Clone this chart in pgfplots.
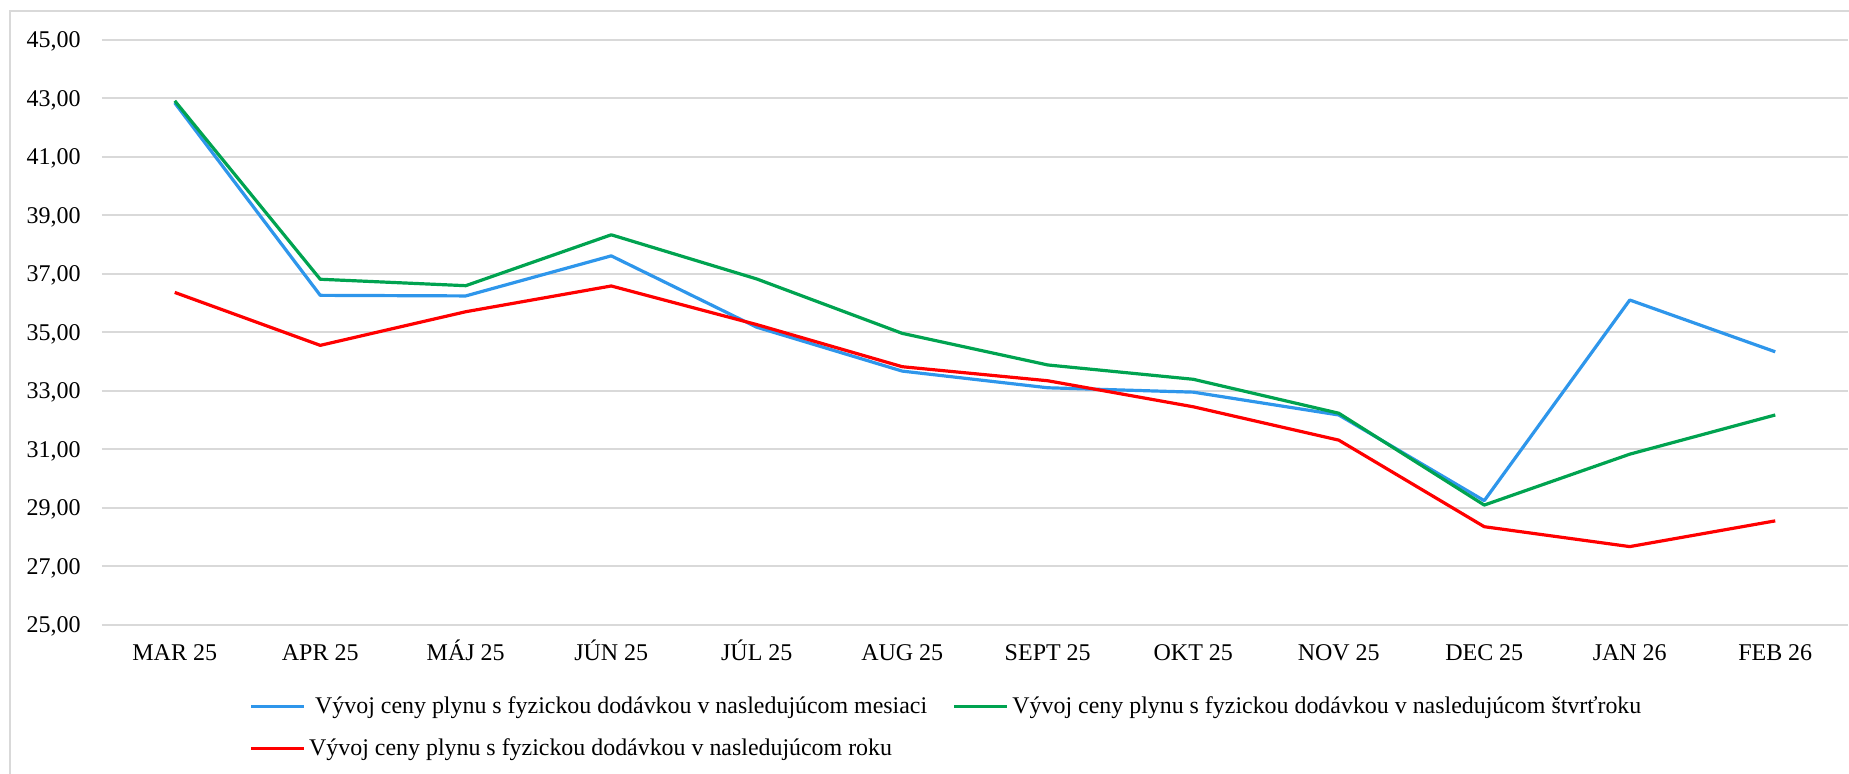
\documentclass[border=0pt]{standalone}
\usepackage{pgfplots}
\pgfplotsset{compat=1.18}
\usepackage{fontspec}
\setmainfont{Liberation Serif}
\definecolor{cblue}{RGB}{46,150,235}
\definecolor{cgreen}{RGB}{0,163,80}
\definecolor{cred}{RGB}{255,0,0}
\definecolor{gridgray}{RGB}{217,217,217}
\begin{document}
\begin{tikzpicture}
\draw[gridgray, line width=1pt] (-46pt,307pt) rectangle (900pt,-100pt);
\begin{axis}[
  scale only axis,
  width=873pt, height=292.5pt,
  xmin=-0.5, xmax=11.5,
  ymin=25, ymax=45,
  xtick={0,...,11},
  xticklabels={MAR 25,APR 25,MÁJ 25,JÚN 25,JÚL 25,AUG 25,SEPT 25,OKT 25,NOV 25,DEC 25,JAN 26,FEB 26},
  ytick={25,27,...,45},
  ymajorgrids,
  grid style={gridgray, line width=1pt},
  axis line style={draw=none},
  major tick length=0pt,
  tick label style={font=\fontsize{12}{14}\selectfont},
  /pgf/number format/.cd, assume math mode=true, fixed, fixed zerofill, precision=2, use comma, 1000 sep={},
  /pgfplots/.cd,
  yticklabel style={anchor=base east, inner sep=0pt, xshift=-10.5pt, yshift=-4pt},
  xticklabel style={anchor=base, inner sep=0pt, yshift=-18pt},
  legend columns=2,
  legend cell align=left,
  legend style={
    at={(rel axis cs:0.0845,-0.122)}, anchor=north west,
    draw=none, fill=none, inner sep=0pt, outer sep=0pt,
    font=\fontsize{11.95}{14}\selectfont,
    nodes={inner sep=0pt},
    row sep=11pt,
    /tikz/every odd column/.append style={column sep=2pt},
    /tikz/every even column/.append style={column sep=12.8pt},
  },
  legend image code/.code={\draw[#1, line width=1.6pt] (0pt,0pt) -- (26.25pt,0pt);},
  every axis plot/.append style={line width=1.6pt, line join=round},
]
\addplot[cblue] coordinates {(0,42.85) (1,36.27) (2,36.25) (3,37.62) (4,35.18) (5,33.68) (6,33.11) (7,32.96) (8,32.18) (9,29.25) (10,36.11) (11,34.34)};
\addlegendentry{\ Vývoj ceny plynu s fyzickou dodávkou v nasledujúcom mesiaci}
\addplot[cgreen] coordinates {(0,42.92) (1,36.82) (2,36.60) (3,38.34) (4,36.83) (5,34.97) (6,33.89) (7,33.40) (8,32.24) (9,29.10) (10,30.84) (11,32.18)};
\addlegendentry{Vývoj ceny plynu s fyzickou dodávkou v nasledujúcom štvrťroku}
\addplot[cred] coordinates {(0,36.37) (1,34.56) (2,35.71) (3,36.59) (4,35.27) (5,33.83) (6,33.35) (7,32.46) (8,31.32) (9,28.36) (10,27.68) (11,28.56)};
\addlegendentry{Vývoj ceny plynu s fyzickou dodávkou v nasledujúcom roku}
\end{axis}
\pgfresetboundingbox
\useasboundingbox (-51pt,-74.5pt) rectangle (873.5pt,312.5pt);
\end{tikzpicture}
\end{document}
